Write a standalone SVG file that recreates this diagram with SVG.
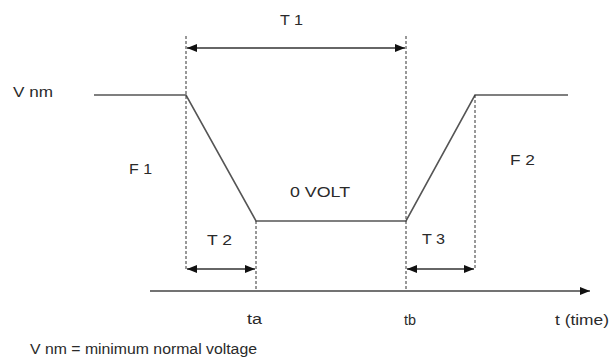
<svg xmlns="http://www.w3.org/2000/svg" width="611" height="360" viewBox="0 0 611 360">
<style>
text{font-family:"Liberation Sans",Arial,sans-serif;font-size:14px;fill:#2a2a2a}
.wave{fill:none;stroke:#555;stroke-width:1.6}
.dash{fill:none;stroke:#333;stroke-width:1;stroke-dasharray:3 2}
.dim{fill:none;stroke:#333;stroke-width:1.3}
.axis{fill:none;stroke:#444;stroke-width:1.6}
</style>
<defs>
<marker id="ah" viewBox="0 0 10 8" refX="10" refY="4" markerWidth="10" markerHeight="8" markerUnits="userSpaceOnUse" orient="auto-start-reverse">
<path d="M0,0 L10,4 L0,8 Z" fill="#111"/>
</marker>
</defs>
<g id="waveform">
<polyline class="wave" points="94,95 186,95 256,221 406,221 475,95 568,95"/>
</g>
<g id="connectors">
<line class="dash" x1="186" y1="36" x2="186" y2="269"/>
<line class="dash" x1="406" y1="36" x2="406" y2="291"/>
<line class="dash" x1="256" y1="221" x2="256" y2="291"/>
<line class="dash" x1="475" y1="95" x2="475" y2="269"/>
<line class="dim" x1="187" y1="48" x2="405" y2="48" marker-start="url(#ah)" marker-end="url(#ah)"/>
<line class="dim" x1="187" y1="269" x2="255" y2="269" marker-start="url(#ah)" marker-end="url(#ah)"/>
<line class="dim" x1="407" y1="269" x2="474" y2="269" marker-start="url(#ah)" marker-end="url(#ah)"/>
<line class="axis" x1="150" y1="291" x2="590" y2="291" marker-end="url(#ah)"/>
</g>
<g id="label-T1"><text x="280" y="25" textLength="23" lengthAdjust="spacingAndGlyphs">T 1</text></g>
<g id="label-Vnm"><text x="13" y="97" textLength="40" lengthAdjust="spacingAndGlyphs">V nm</text></g>
<g id="label-F1"><text x="129" y="174" textLength="23" lengthAdjust="spacingAndGlyphs">F 1</text></g>
<g id="label-0volt"><text x="290" y="197" textLength="60" lengthAdjust="spacingAndGlyphs">0 VOLT</text></g>
<g id="label-F2"><text x="510" y="165" textLength="25" lengthAdjust="spacingAndGlyphs">F 2</text></g>
<g id="label-T2"><text x="207" y="245" textLength="25" lengthAdjust="spacingAndGlyphs">T 2</text></g>
<g id="label-T3"><text x="422" y="244" textLength="23" lengthAdjust="spacingAndGlyphs">T 3</text></g>
<g id="label-ta"><text x="247" y="324" textLength="15" lengthAdjust="spacingAndGlyphs">ta</text></g>
<g id="label-tb"><text x="404" y="325" textLength="12" lengthAdjust="spacingAndGlyphs">tb</text></g>
<g id="label-time"><text x="555" y="325" textLength="54" lengthAdjust="spacingAndGlyphs">t (time)</text></g>
<g id="legend"><text x="30" y="354" textLength="227" lengthAdjust="spacingAndGlyphs">V nm = minimum normal voltage</text></g>
</svg>
